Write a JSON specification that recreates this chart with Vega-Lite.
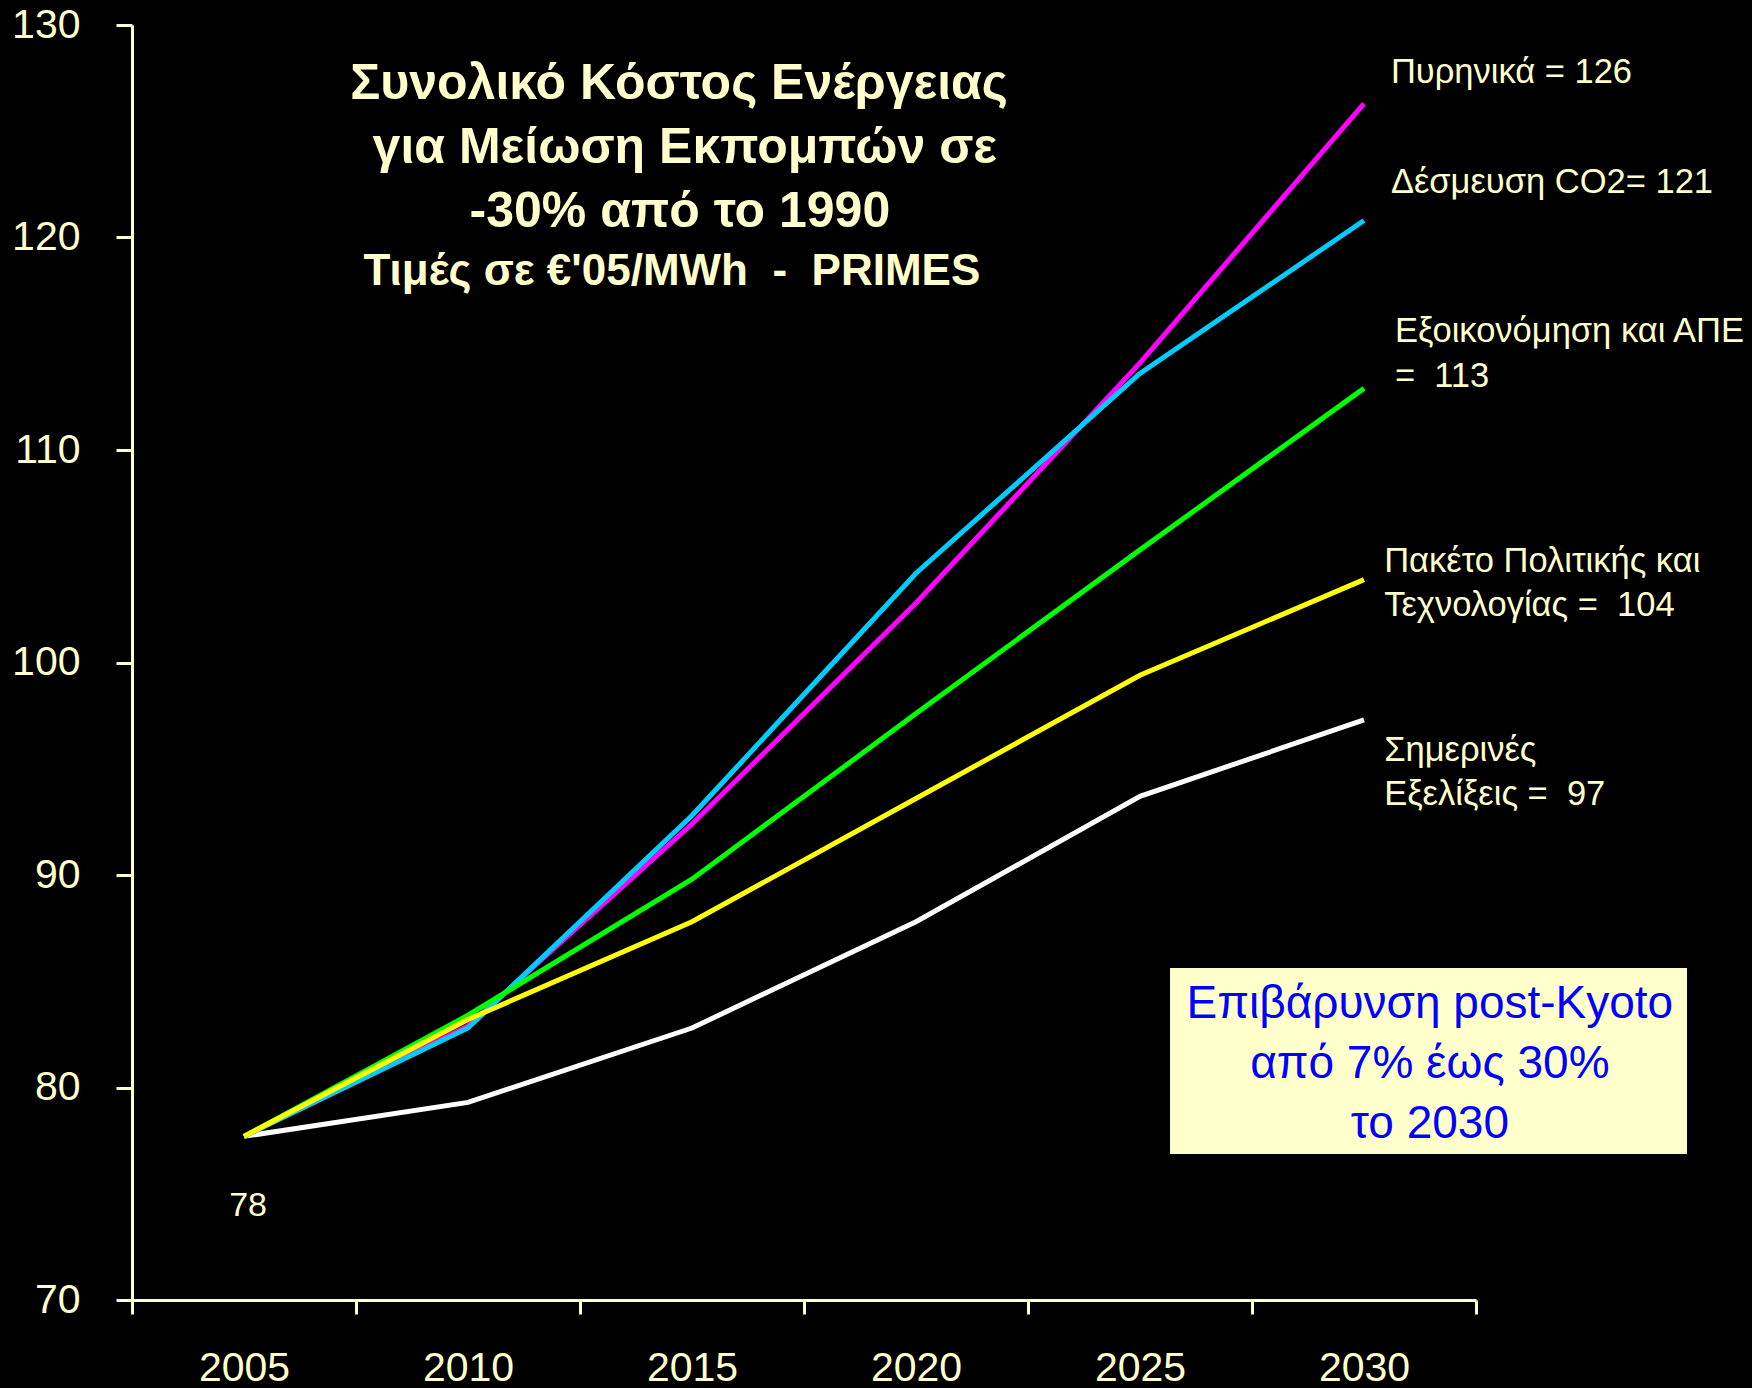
{
  "$schema": "https://vega.github.io/schema/vega-lite/v6.json",
  "width": 1344,
  "height": 1275,
  "autosize": {"type": "none"},
  "padding": {"left": 132, "top": 25, "right": 276, "bottom": 88},
  "background": "#000000",
  "config": {"view": {"stroke": null}, "font": "Liberation Sans"},
  "datasets": {
    "series": [
      {"scenario": "Σημερινές Εξελίξεις", "year": 2005, "value": 77.7},
      {"scenario": "Σημερινές Εξελίξεις", "year": 2010, "value": 79.3},
      {"scenario": "Σημερινές Εξελίξεις", "year": 2015, "value": 82.8},
      {"scenario": "Σημερινές Εξελίξεις", "year": 2020, "value": 87.8},
      {"scenario": "Σημερινές Εξελίξεις", "year": 2025, "value": 93.7},
      {"scenario": "Σημερινές Εξελίξεις", "year": 2030, "value": 97.3},
      {"scenario": "Πυρηνικά", "year": 2005, "value": 77.7},
      {"scenario": "Πυρηνικά", "year": 2010, "value": 82.9},
      {"scenario": "Πυρηνικά", "year": 2015, "value": 92.4},
      {"scenario": "Πυρηνικά", "year": 2020, "value": 102.8},
      {"scenario": "Πυρηνικά", "year": 2025, "value": 114.1},
      {"scenario": "Πυρηνικά", "year": 2030, "value": 126.3},
      {"scenario": "Δέσμευση CO2", "year": 2005, "value": 77.7},
      {"scenario": "Δέσμευση CO2", "year": 2010, "value": 82.8},
      {"scenario": "Δέσμευση CO2", "year": 2015, "value": 92.8},
      {"scenario": "Δέσμευση CO2", "year": 2020, "value": 104.2},
      {"scenario": "Δέσμευση CO2", "year": 2025, "value": 113.6},
      {"scenario": "Δέσμευση CO2", "year": 2030, "value": 120.8},
      {"scenario": "Εξοικονόμηση και ΑΠΕ", "year": 2005, "value": 77.7},
      {"scenario": "Εξοικονόμηση και ΑΠΕ", "year": 2010, "value": 83.4},
      {"scenario": "Εξοικονόμηση και ΑΠΕ", "year": 2015, "value": 89.8},
      {"scenario": "Εξοικονόμηση και ΑΠΕ", "year": 2020, "value": 97.6},
      {"scenario": "Εξοικονόμηση και ΑΠΕ", "year": 2025, "value": 105.3},
      {"scenario": "Εξοικονόμηση και ΑΠΕ", "year": 2030, "value": 112.9},
      {"scenario": "Πακέτο Πολιτικής και Τεχνολογίας", "year": 2005, "value": 77.7},
      {"scenario": "Πακέτο Πολιτικής και Τεχνολογίας", "year": 2010, "value": 83.2},
      {"scenario": "Πακέτο Πολιτικής και Τεχνολογίας", "year": 2015, "value": 87.8},
      {"scenario": "Πακέτο Πολιτικής και Τεχνολογίας", "year": 2020, "value": 93.6},
      {"scenario": "Πακέτο Πολιτικής και Τεχνολογίας", "year": 2025, "value": 99.4},
      {"scenario": "Πακέτο Πολιτικής και Τεχνολογίας", "year": 2030, "value": 103.9}
    ],
    "notes": [
      {"kind": "title", "t": "Συνολικό Κόστος Ενέργειας", "year": 2014.71, "value": 126.5},
      {"kind": "title", "t": "για Μείωση Εκπομπών σε", "year": 2014.84, "value": 123.51},
      {"kind": "title", "t": "-30% από το 1990", "year": 2014.73, "value": 120.5},
      {"kind": "subtitle", "t": "Τιμές σε €'05/MWh \u00a0-\u00a0 PRIMES", "year": 2014.55, "value": 117.76},
      {"kind": "label", "t": "Πυρηνικά = 126", "year": 2030.6, "value": 127.26},
      {"kind": "label", "t": "Δέσμευση CO2= 121", "year": 2030.6, "value": 122.11},
      {"kind": "label", "t": "Εξοικονόμηση και ΑΠΕ", "year": 2030.69, "value": 115.07},
      {"kind": "label", "t": "= \u00a0113", "year": 2030.69, "value": 112.98},
      {"kind": "label", "t": "Πακέτο Πολιτικής και", "year": 2030.45, "value": 104.27},
      {"kind": "label", "t": "Τεχνολογίας = \u00a0104", "year": 2030.45, "value": 102.19},
      {"kind": "label", "t": "Σημερινές", "year": 2030.45, "value": 95.38},
      {"kind": "label", "t": "Εξελίξεις = \u00a097", "year": 2030.45, "value": 93.29},
      {"kind": "start", "t": "78", "year": 2005.09, "value": 73.95},
      {"kind": "box", "t": "Επιβάρυνση post-Kyoto", "year": 2031.47, "value": 83.26},
      {"kind": "box", "t": "από 7% έως 30%", "year": 2031.47, "value": 80.43},
      {"kind": "box", "t": "το 2030", "year": 2031.47, "value": 77.61}
    ],
    "box": [{"year": 2025.67, "year2": 2037.21, "value": 85.62, "value2": 76.87}]
  },
  "encoding": {
    "x": {
      "field": "year", "type": "quantitative",
      "scale": {"domain": [2002.5, 2032.5], "nice": false, "zero": false},
      "axis": {
        "values": [2002.5, 2007.5, 2012.5, 2017.5, 2022.5, 2027.5, 2032.5],
        "labelExpr": "datum.value < 2030 ? format(datum.value + 2.5, 'd') : ''",
        "labelOffset": 112,
        "domainColor": "#FFFFCC", "domainWidth": 3,
        "tickColor": "#FFFFCC", "tickWidth": 3, "tickSize": 14,
        "labelColor": "#FFFFCC", "labelFontSize": 41, "labelFont": "Liberation Sans",
        "labelPadding": 34, "grid": false, "title": null,
        "labelFlush": false, "labelOverlap": false, "labelBound": false
      }
    },
    "y": {
      "field": "value", "type": "quantitative",
      "scale": {"domain": [70, 130], "nice": false, "zero": false},
      "axis": {
        "values": [70, 80, 90, 100, 110, 120, 130],
        "domainColor": "#FFFFCC", "domainWidth": 3,
        "tickColor": "#FFFFCC", "tickWidth": 3, "tickSize": 16,
        "labelColor": "#FFFFCC", "labelFontSize": 41, "labelFont": "Liberation Sans",
        "labelPadding": 36, "grid": false, "title": null,
        "labelFlush": false, "labelOverlap": false, "labelBound": false
      }
    }
  },
  "layer": [
    {
      "data": {"name": "series"},
      "mark": {"type": "line", "strokeWidth": 5, "interpolate": "linear"},
      "encoding": {
        "color": {
          "field": "scenario", "type": "nominal",
          "scale": {
            "domain": ["Σημερινές Εξελίξεις", "Πυρηνικά", "Δέσμευση CO2", "Εξοικονόμηση και ΑΠΕ", "Πακέτο Πολιτικής και Τεχνολογίας"],
            "range": ["#FFFFFF", "#FF00FF", "#00CCFF", "#00FF00", "#FFFF00"]
          },
          "legend": null
        }
      }
    },
    {
      "data": {"name": "box"},
      "mark": {"type": "rect", "fill": "#FFFFCC"},
      "encoding": {
        "x2": {"field": "year2"},
        "y2": {"field": "value2"}
      }
    },
    {
      "data": {"name": "notes"},
      "transform": [{"filter": "datum.kind === 'title'"}],
      "mark": {"type": "text", "align": "center", "baseline": "alphabetic", "fontSize": 50, "fontWeight": "bold", "color": "#FFFFCC", "font": "Liberation Sans"},
      "encoding": {"text": {"field": "t"}}
    },
    {
      "data": {"name": "notes"},
      "transform": [{"filter": "datum.kind === 'subtitle'"}],
      "mark": {"type": "text", "align": "center", "baseline": "alphabetic", "fontSize": 44, "fontWeight": "bold", "color": "#FFFFCC", "font": "Liberation Sans"},
      "encoding": {"text": {"field": "t"}}
    },
    {
      "data": {"name": "notes"},
      "transform": [{"filter": "datum.kind === 'label'"}],
      "mark": {"type": "text", "align": "left", "baseline": "alphabetic", "fontSize": 34.5, "color": "#FFFFCC", "font": "Liberation Sans"},
      "encoding": {"text": {"field": "t"}}
    },
    {
      "data": {"name": "notes"},
      "transform": [{"filter": "datum.kind === 'start'"}],
      "mark": {"type": "text", "align": "center", "baseline": "alphabetic", "fontSize": 34, "color": "#FFFFCC", "font": "Liberation Sans"},
      "encoding": {"text": {"field": "t"}}
    },
    {
      "data": {"name": "notes"},
      "transform": [{"filter": "datum.kind === 'box'"}],
      "mark": {"type": "text", "align": "center", "baseline": "alphabetic", "fontSize": 46, "color": "#0000FF", "font": "Liberation Sans"},
      "encoding": {"text": {"field": "t"}}
    }
  ]
}
